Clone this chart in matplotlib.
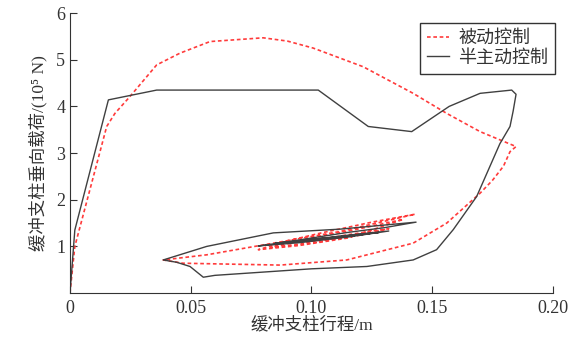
import matplotlib
matplotlib.use('Agg')
from matplotlib import pyplot as plt

plt.rcParams['font.family'] = ['Liberation Serif', 'Noto Sans CJK SC', 'DejaVu Sans']

# 被动控制 (passive) - stroke (m), load (1e5 N)
passive_x = [0.0, 0.002, 0.0152, 0.0186, 0.0248, 0.0359, 0.0455, 0.058, 0.080, 0.090,
             0.1007, 0.1214, 0.1421, 0.156, 0.1698, 0.1847,
             0.1822, 0.1795, 0.1750, 0.1698, 0.156, 0.1421, 0.1146, 0.087, 0.0566, 0.0468, 0.0386,
             0.0566, 0.0842, 0.1118, 0.1429,
             0.125, 0.105, 0.090, 0.078, 0.095, 0.115, 0.138, 0.120, 0.100, 0.083,
             0.100, 0.120, 0.132, 0.115, 0.098, 0.110, 0.125]
passive_y = [0.0, 1.0, 3.57, 3.85, 4.21, 4.89, 5.14, 5.39, 5.47, 5.40,
             5.25, 4.85, 4.28, 3.85, 3.46, 3.14,
             3.03, 2.72, 2.42, 2.14, 1.50, 1.07, 0.71, 0.60, 0.63, 0.64, 0.71,
             0.82, 1.07, 1.32, 1.69,
             1.52, 1.30, 1.12, 0.93, 1.02, 1.18, 1.58, 1.38, 1.18, 0.98,
             1.08, 1.24, 1.38, 1.25, 1.10, 1.17, 1.30]

# 半主动控制 (semi-active)
semi_x = [0.0, 0.002, 0.0159, 0.0359, 0.1028, 0.1235, 0.1415, 0.157, 0.1698, 0.1829, 0.1847,
          0.1835, 0.1822, 0.178, 0.1684, 0.1587, 0.1518, 0.1421, 0.1229, 0.100, 0.080, 0.060,
          0.0552, 0.0497, 0.0442, 0.0386,
          0.0566, 0.0842, 0.1118, 0.1433,
          0.130, 0.115, 0.100, 0.085, 0.078, 0.095, 0.115, 0.132, 0.115, 0.095, 0.085,
          0.100, 0.120, 0.128, 0.110, 0.098, 0.112, 0.122]
semi_y = [0.0, 1.35, 4.14, 4.35, 4.35, 3.57, 3.46, 4.0, 4.28, 4.35, 4.26,
          3.9, 3.57, 3.2, 2.07, 1.36, 0.93, 0.71, 0.57, 0.52, 0.45, 0.38,
          0.34, 0.57, 0.66, 0.71,
          1.0, 1.29, 1.37, 1.52,
          1.40, 1.30, 1.18, 1.06, 1.01, 1.08, 1.20, 1.33, 1.24, 1.12, 1.07,
          1.13, 1.25, 1.30, 1.20, 1.14, 1.20, 1.26]

fig = plt.figure(figsize=(5.77, 3.44), dpi=100)
ax = fig.add_axes([0.1213, 0.148, 0.8371, 0.814])

ax.plot(passive_x, passive_y, color='#ff3b3b', linestyle=(0, (2.2, 1.6)), linewidth=1.2, label='被动控制')
ax.plot(semi_x, semi_y, color='#404040', linestyle='-', linewidth=1.0, label='半主动控制')

ax.set_xlim(0, 0.2)
ax.set_ylim(0, 6)
ax.set_xticks([0, 0.05, 0.10, 0.15, 0.20])
ax.set_xticklabels(['0', '0.05', '0.10', '0.15', '0.20'])
ax.set_yticks([1, 2, 3, 4, 5, 6])
ax.tick_params(direction='in', length=5, labelsize=13, colors='#333333')
ax.tick_params(axis='x', pad=5)
for s in ['top', 'right']:
    ax.spines[s].set_visible(False)
for s in ['left', 'bottom']:
    ax.spines[s].set_color('#333333')

ax.set_xlabel('缓冲支柱行程/m', fontsize=12.5, color='#333333', labelpad=0)
ax.set_ylabel('缓冲支柱垂向载荷/(10⁵ N)', fontsize=12.5, color='#333333', labelpad=6)

leg = ax.legend(loc='upper right', bbox_to_anchor=(1.005, 0.965), fontsize=13, fancybox=False,
                framealpha=1, edgecolor='#333333', handlelength=1.2, handletextpad=0.5,
                borderpad=0.4, labelspacing=0.15, borderaxespad=0.0)
leg.get_frame().set_linewidth(1.0)
for t in leg.get_texts():
    t.set_color('#333333')

fig.savefig('out.png', dpi=100)
